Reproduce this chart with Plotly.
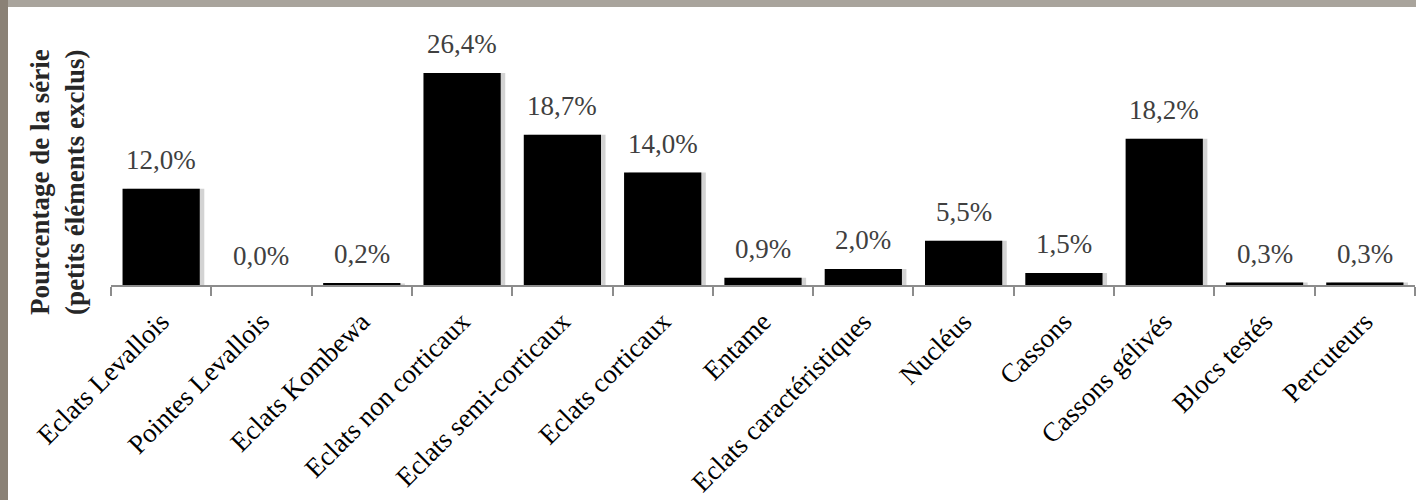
import plotly.graph_objects as go

categories = ["Eclats Levallois", "Pointes Levallois", "Eclats Kombewa", "Eclats non corticaux",
              "Eclats semi-corticaux", "Eclats corticaux", "Entame", "Eclats caractéristiques",
              "Nucléus", "Cassons", "Cassons gélivés", "Blocs testés", "Percuteurs"]
values = [12.0, 0.0, 0.2, 26.4, 18.7, 14.0, 0.9, 2.0, 5.5, 1.5, 18.2, 0.3, 0.3]
y_title = "Pourcentage de la série<br>(petits éléments exclus)"

W, H = 1416, 500
ML, MR, MT, MB = 111, 1, 25, 215
pw, ph = W - ML - MR, H - MT - MB
px_per_pct = 8.03
ymax = ph / px_per_pct

def fx(x):  # figure pixel -> paper x
    return (x - ML) / pw

def fy(y):  # figure pixel -> paper y
    return (H - MB - y) / ph

serif = "Liberation Serif"

fig = go.Figure()
# soft shadow on the right of each bar
fig.add_trace(go.Bar(x=categories, y=values, width=0.77, offset=-0.385 + 0.045,
                     marker=dict(color="rgba(110,110,110,0.3)", line=dict(width=0)),
                     hoverinfo="skip", showlegend=False))
fig.add_trace(go.Bar(x=categories, y=values, width=0.77, offset=-0.385,
                     marker=dict(color="black", line=dict(width=0)), showlegend=False))

for c, v in zip(categories, values):
    fig.add_annotation(x=c, y=v, text=f"{v:.1f}".replace(".", ",") + "%", showarrow=False,
                       yanchor="bottom", yshift=12, font=dict(family=serif, size=27, color="#404040"))

fig.add_annotation(xref="paper", yref="paper", x=fx(57), y=fy(182), text=y_title, textangle=-90,
                   showarrow=False, xanchor="center", yanchor="middle",
                   font=dict(family=serif, size=27, color="#262626", weight="bold"))

# photo frame edges
fig.add_shape(type="rect", xref="paper", yref="paper", x0=fx(0), x1=fx(W), y0=fy(0), y1=fy(7),
              fillcolor="#a9a49c", line=dict(width=0), layer="below")
fig.add_shape(type="rect", xref="paper", yref="paper", x0=fx(0), x1=fx(8), y0=fy(0), y1=fy(H),
              fillcolor="#8a8176", line=dict(width=0), layer="below")

fig.update_layout(
    width=W, height=H, barmode="overlay",
    margin=dict(l=ML, r=MR, t=MT, b=MB),
    paper_bgcolor="white", plot_bgcolor="white",
    xaxis=dict(range=[-0.5, len(categories) - 0.5], showline=True, linecolor="#8c8c8c", linewidth=2,
               ticks="outside", tickson="boundaries", ticklen=9, tickwidth=2, tickcolor="#8c8c8c",
               tickangle=-45, ticklabelstandoff=8,
               tickfont=dict(family=serif, size=27, color="black"), showgrid=False),
    yaxis=dict(range=[0, ymax], visible=False, showgrid=False, zeroline=False),
)

fig.write_html("out.html", config={"displayModeBar": False},
               post_script="document.body.style.margin='0';document.body.style.overflow='hidden';")
